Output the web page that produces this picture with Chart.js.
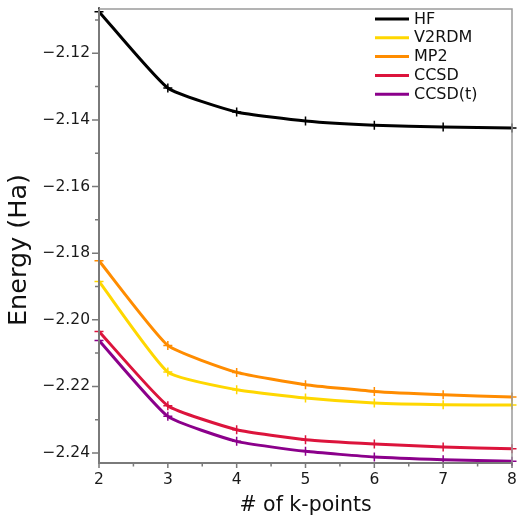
<!DOCTYPE html>
<html>
<head>
<meta charset="utf-8">
<script src="https://cdn.jsdelivr.net/npm/chart.js@4/dist/chart.umd.min.js"></script>
<style>
    html, body { margin: 0; padding: 0; background: #fff; overflow: hidden; }
    canvas { display: block; }
</style>
</head>
<body>
<canvas id="energy" width="517" height="518"></canvas>
<script>
// k-point counts and total energies (Ha) per method
const kPoints = [2, 3, 4, 5, 6, 7, 8];
const hf = [-2.1075, -2.1304, -2.1376, -2.1403, -2.1416, -2.1421, -2.1424];
const v2rdm = [-2.1885, -2.2157, -2.2210, -2.2235, -2.2250, -2.2255, -2.2256];
const mp2 = [-2.1823, -2.2077, -2.2158, -2.2195, -2.2215, -2.2225, -2.2232];
const ccsd = [-2.2035, -2.2258, -2.2330, -2.2360, -2.2373, -2.2382, -2.2387];
const ccsdT = [-2.2062, -2.2290, -2.2365, -2.2395, -2.2412, -2.2420, -2.2425];

const yMajor = [-2.24, -2.22, -2.20, -2.18, -2.16, -2.14, -2.12];
const yMinor = [-2.23, -2.21, -2.19, -2.17, -2.15, -2.13, -2.11];
const xMinor = [2.5, 3.5, 4.5, 5.5, 6.5, 7.5];

const FONT = "'DejaVu Sans', Verdana, sans-serif";
const Y_TITLE = 'Energy (Ha)';

function series(label, values, color) {
    return {
        label,
        data: kPoints.map((k, i) => ({ x: k, y: values[i] })),
        borderColor: color,
        backgroundColor: color,
        borderWidth: 3,
        pointStyle: 'cross',
        pointRadius: 4.5,
        pointBorderWidth: 1.5,
        pointHoverRadius: 4.5,
        tension: 0.15,
        fill: false,
        clip: false,
    };
}

// frame, tick marks, y title and the legend box in the top right corner
const framePlugin = {
    id: 'frame',
    afterDraw(chart) {
        const { ctx, chartArea: a, scales } = chart;
        ctx.save();
        ctx.strokeStyle = '#9a9a9a';
        ctx.lineWidth = 1.5;
        ctx.beginPath();
        ctx.moveTo(a.left, a.top);
        ctx.lineTo(a.right, a.top);
        ctx.lineTo(a.right, a.bottom);
        ctx.stroke();

        ctx.strokeStyle = '#7a7a7a';
        ctx.lineWidth = 2;
        ctx.beginPath();
        ctx.moveTo(a.left, a.top);
        ctx.lineTo(a.left, a.bottom);
        ctx.lineTo(a.right, a.bottom);
        ctx.stroke();

        ctx.lineWidth = 1.5;
        ctx.beginPath();
        yMajor.forEach((v) => {
            const y = scales.y.getPixelForValue(v);
            ctx.moveTo(a.left - 7, y);
            ctx.lineTo(a.left, y);
        });
        yMinor.forEach((v) => {
            const y = scales.y.getPixelForValue(v);
            ctx.moveTo(a.left - 4, y);
            ctx.lineTo(a.left, y);
        });
        kPoints.forEach((k) => {
            const x = scales.x.getPixelForValue(k);
            ctx.moveTo(x, a.bottom);
            ctx.lineTo(x, a.bottom + 5);
        });
        xMinor.forEach((k) => {
            const x = scales.x.getPixelForValue(k);
            ctx.moveTo(x, a.bottom);
            ctx.lineTo(x, a.bottom + 3.5);
        });
        ctx.stroke();

        // y axis title, sits a little below the middle of the plot
        ctx.save();
        ctx.translate(19, 250);
        ctx.rotate(-Math.PI / 2);
        ctx.font = '25.5px ' + FONT;
        ctx.fillStyle = '#111';
        ctx.textAlign = 'center';
        ctx.textBaseline = 'middle';
        ctx.fillText(Y_TITLE, 0, 0);
        ctx.restore();

        // legend
        ctx.font = '16px ' + FONT;
        ctx.textBaseline = 'middle';
        ctx.textAlign = 'left';
        chart.data.datasets.forEach((ds, i) => {
            const y = 19 + i * 18.8;
            ctx.strokeStyle = ds.borderColor;
            ctx.lineWidth = 3;
            ctx.beginPath();
            ctx.moveTo(375, y);
            ctx.lineTo(409, y);
            ctx.stroke();
            ctx.fillStyle = '#111';
            ctx.fillText(ds.label, 414, y + 0.5);
        });
        ctx.restore();
    },
};

new Chart(document.getElementById('energy'), {
    type: 'line',
    data: {
        datasets: [
            series('HF', hf, '#000000'),
            series('V2RDM', v2rdm, '#ffd700'),
            series('MP2', mp2, '#ff8c00'),
            series('CCSD', ccsd, '#dc143c'),
            series('CCSD(t)', ccsdT, '#8b008b'),
        ],
    },
    options: {
        responsive: false,
        animation: false,
        devicePixelRatio: 1,
        layout: { autoPadding: false, padding: { top: 9, right: 5, left: 0, bottom: 0 } },
        plugins: {
            legend: { display: false },
            tooltip: { enabled: false },
        },
        scales: {
            x: {
                type: 'linear',
                min: 2,
                max: 8,
                afterBuildTicks: (scale) => { scale.ticks = kPoints.map((v) => ({ value: v })); },
                afterFit: (scale) => {
                    scale.height = 55;
                    scale.paddingLeft = 0;
                    scale.paddingRight = 0;
                },
                grid: { display: false, drawTicks: false },
                border: { display: false },
                ticks: {
                    padding: 8,
                    color: '#1a1a1a',
                    font: { family: FONT, size: 15.5 },
                    callback: (v) => String(v),
                },
                title: {
                    display: true,
                    text: '# of k-points',
                    color: '#111',
                    font: { family: FONT, size: 20.5 },
                    padding: { top: 0, bottom: 0 },
                },
            },
            y: {
                min: -2.243,
                max: -2.1067,
                afterBuildTicks: (scale) => { scale.ticks = yMajor.map((v) => ({ value: v })); },
                afterFit: (scale) => {
                    scale.width = 99;
                    scale.paddingTop = 0;
                    scale.paddingBottom = 0;
                },
                grid: { display: false, drawTicks: false },
                border: { display: false },
                ticks: {
                    padding: 9,
                    color: '#1a1a1a',
                    font: { family: FONT, size: 15.5 },
                    callback: (v) => '\u2212' + Math.abs(v).toFixed(2),
                },
            },
        },
    },
    plugins: [framePlugin],
});
</script>
</body>
</html>
